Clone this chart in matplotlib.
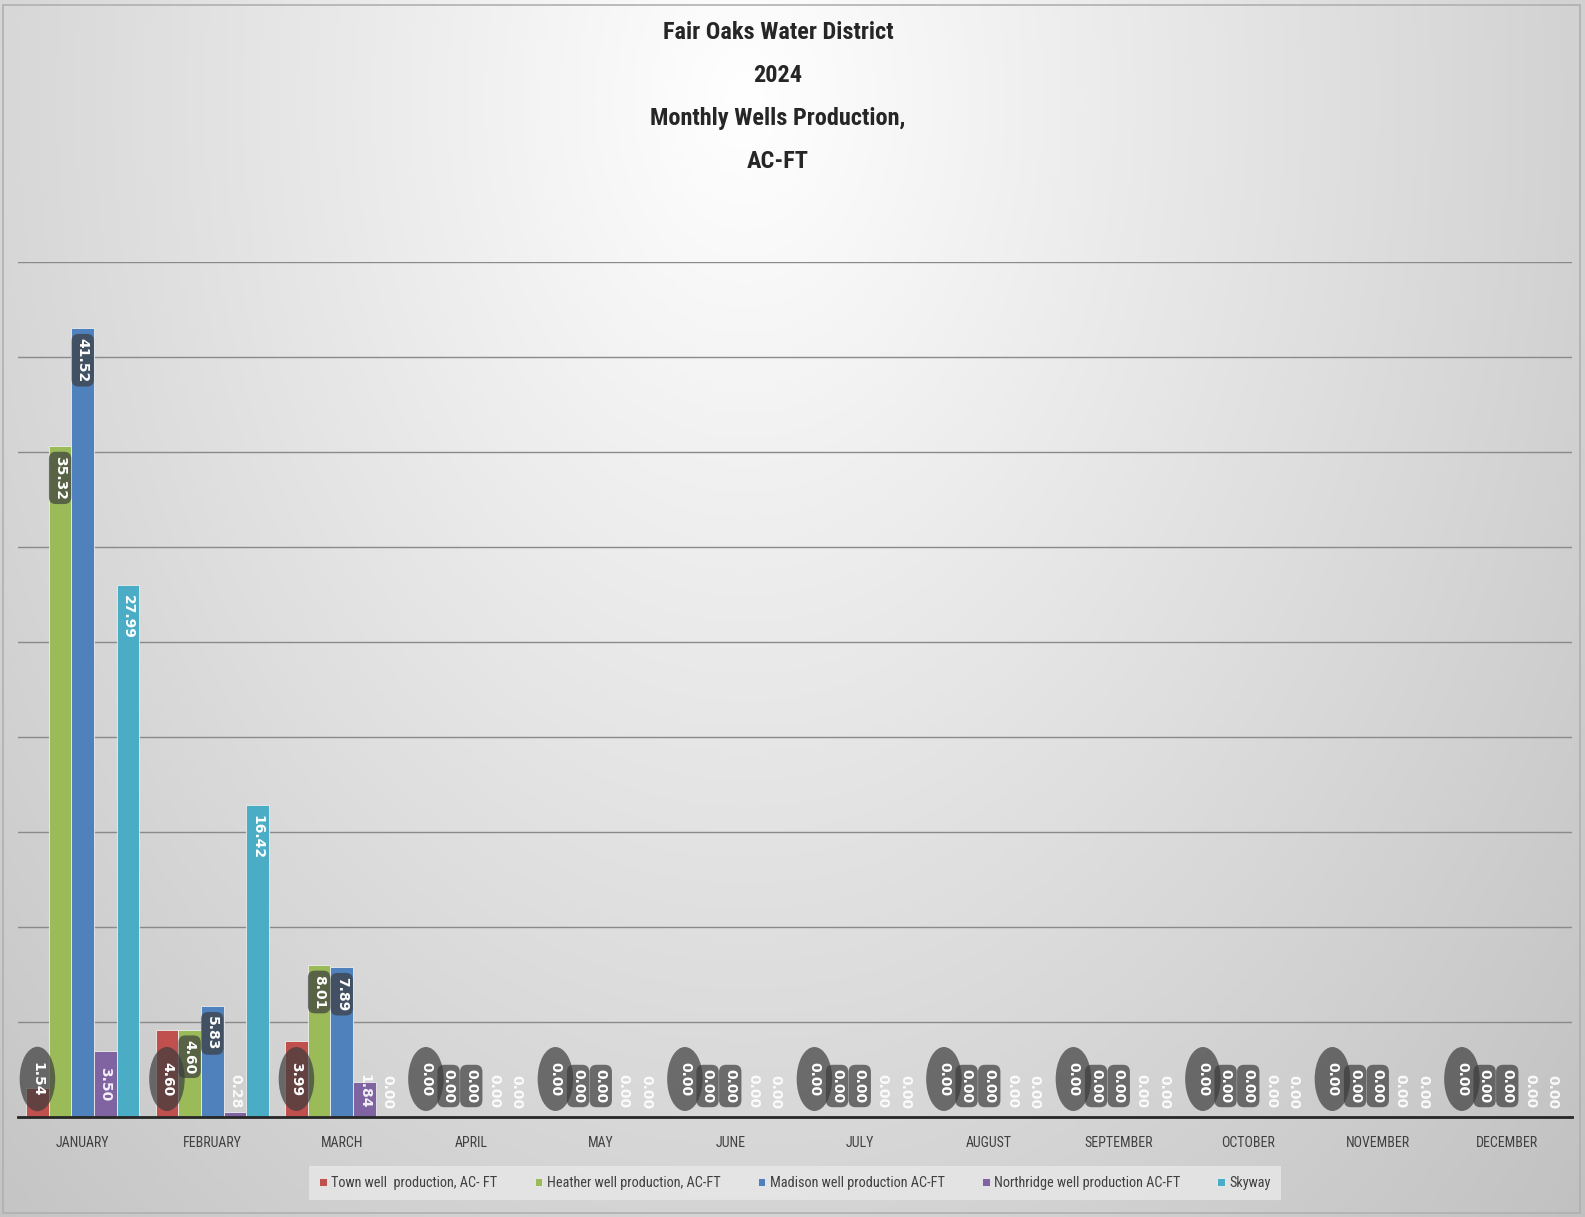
import numpy as np
import matplotlib.pyplot as plt
from matplotlib import font_manager
from matplotlib.patches import Rectangle

# monthly production, AC-FT
months = ['JANUARY', 'FEBRUARY', 'MARCH', 'APRIL', 'MAY', 'JUNE', 'JULY',
          'AUGUST', 'SEPTEMBER', 'OCTOBER', 'NOVEMBER', 'DECEMBER']
town = [1.54, 4.60, 3.99, 0, 0, 0, 0, 0, 0, 0, 0, 0]
heather = [35.32, 4.60, 8.01, 0, 0, 0, 0, 0, 0, 0, 0, 0]
madison = [41.52, 5.83, 7.89, 0, 0, 0, 0, 0, 0, 0, 0, 0]
northridge = [3.50, 0.28, 1.84, 0, 0, 0, 0, 0, 0, 0, 0, 0]
skyway = [27.99, 16.42, 0.00, 0, 0, 0, 0, 0, 0, 0, 0, 0]

series_names = ['Town well  production, AC- FT', 'Heather well production, AC-FT',
                'Madison well production AC-FT', 'Northridge well production AC-FT', 'Skyway']
colors = ['#C0504D', '#9BBB59', '#4F81BD', '#8064A2', '#4BACC6']

# pick a narrow font if one is installed
names = {f.name for f in font_manager.fontManager.ttflist}
narrow = 'DejaVu Sans'
for cand in ['Liberation Sans Narrow', 'Roboto Condensed', 'Open Sans Condensed']:
    if cand in names:
        narrow = cand
        break

W, H = 1585, 1217
fig = plt.figure(figsize=(W / 100, H / 100), dpi=100)

# background gradient
bg = fig.add_axes([0, 0, 1, 1], zorder=-5)
yy, xx = np.mgrid[0:1:300j, 0:1:400j]
d = np.sqrt(((xx - 0.47) / 0.6) ** 2 + ((yy - 0.08) / 1.1) ** 2)
g = np.clip(1 - 0.2 * d, 0, 1)
bg.imshow(np.dstack([g, g, g]), extent=[0, 1, 0, 1], aspect='auto', origin='upper')
bg.axis('off')
fig.patches.append(Rectangle((3 / W, 4 / H), 1 - 8 / W, 1 - 9 / H, transform=fig.transFigure,
                             fill=False, edgecolor='#b0b0b0', lw=1.2))

ax = fig.add_axes([18 / W, 1 - 1117 / H, 1554 / W, 855 / H])
ax.set_facecolor('none')

x = np.arange(len(months))
bw = 0.175
data = [town, heather, madison, northridge, skyway]
for i, vals in enumerate(data):
    ax.bar(x + (i - 2) * bw, vals, width=bw, color=colors[i], edgecolor='#eeeeee',
           linewidth=0.6, label=series_names[i], zorder=3)

ax.set_xlim(-0.5, 11.5)
ax.set_ylim(0, 45)
ax.set_yticks(np.arange(5, 50, 5))
ax.set_yticklabels([])
ax.tick_params(axis='y', length=0)
ax.grid(axis='y', color='#8a8a8a', lw=1.0, zorder=0)
ax.set_xticks(x)
ax.set_xticklabels(months, fontsize=10, color='#404040', family=narrow)
ax.tick_params(axis='x', length=0, pad=14)
for s in ['top', 'left', 'right']:
    ax.spines[s].set_visible(False)
ax.spines['bottom'].set_color('#262626')
ax.spines['bottom'].set_linewidth(2)
ax.spines['bottom'].set_zorder(4)

# data labels
px_per_unit = 855 / 45
dark_box = dict(boxstyle='round,pad=0.3,rounding_size=0.5', fc='#3c3c3c', ec='none', alpha=0.7)
dark_ell = dict(boxstyle='ellipse,pad=0.4', fc='#3c3c3c', ec='none', alpha=0.7)
lab_kw = dict(rotation=270, ha='center', color='white', fontsize=10, fontweight='bold',
              textcoords='offset pixels', zorder=6, annotation_clip=False)

for i, vals in enumerate(data):
    for xi, v in zip(x + (i - 2) * bw, vals):
        hpx = v * px_per_unit
        txt = f'{v:.2f}'
        if i == 0:
            ax.annotate(txt, (xi, 0), xytext=(0, 38), va='center', bbox=dark_ell, **lab_kw)
        elif i in (1, 2):
            if hpx > 60:
                ax.annotate(txt, (xi, v), xytext=(0, -10), va='top', bbox=dark_box, **lab_kw)
            else:
                ax.annotate(txt, (xi, 0), xytext=(0, 31), va='center', bbox=dark_box, **lab_kw)
        elif i == 3:
            ax.annotate(txt, (xi, 0), xytext=(0, max(hpx / 2, 26)), va='center', alpha=0.9, **lab_kw)
        else:
            if hpx > 60:
                ax.annotate(txt, (xi, v), xytext=(0, -10), va='top', **lab_kw)
            else:
                ax.annotate(txt, (xi, 0), xytext=(0, 25), va='center', alpha=0.9, **lab_kw)

fig.text(778 / W, 1 - 97 / H, 'Fair Oaks Water District\n2024\nMonthly Wells Production,\nAC-FT',
         ha='center', va='center', fontsize=17.5, fontweight='bold', color='#262626',
         family=narrow, linespacing=2.1)

leg = ax.legend(loc='center', bbox_to_anchor=(795 / W, 1 - 1183 / H), bbox_transform=fig.transFigure,
                ncol=5, frameon=True, fancybox=False, handlelength=0.55, handleheight=0.55,
                handletextpad=0.3, columnspacing=2.6, borderpad=0.7,
                prop={'family': narrow, 'size': 10.3})
leg.get_frame().set_facecolor('#e8e8e8')
leg.get_frame().set_edgecolor('none')
leg.get_frame().set_alpha(0.8)
for t in leg.get_texts():
    t.set_color('#404040')

fig.savefig('out.png', dpi=100)
